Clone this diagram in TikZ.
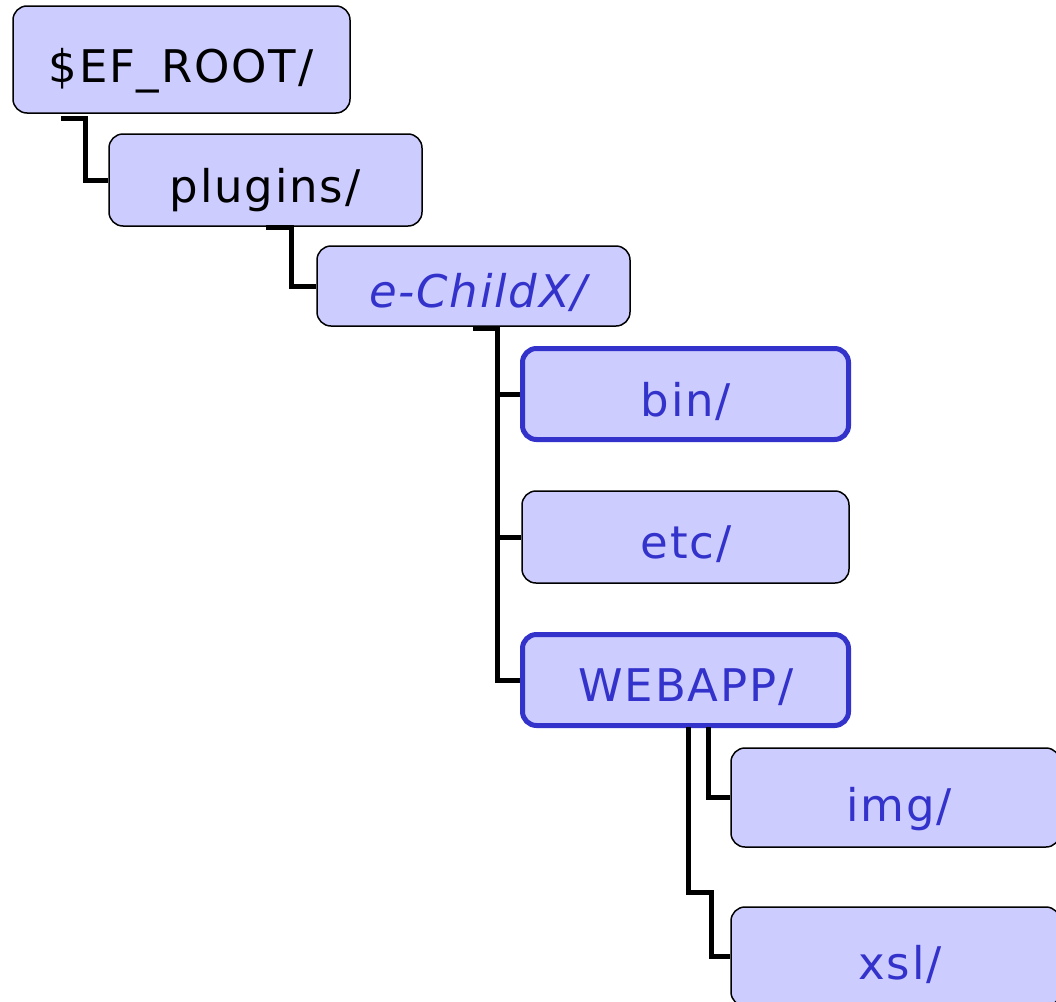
\documentclass[tikz,border=0pt]{standalone}
\usepackage{fontspec}
\setmainfont[LetterSpace=4]{DejaVu Sans}
\definecolor{boxfill}{HTML}{CCCCFF}
\definecolor{dirblue}{HTML}{3333CC}
\tikzset{
  dirbox/.style={draw=black, line width=1.5pt, fill=boxfill, rounded corners=14pt, inner sep=0pt},
  hibox/.style={draw=dirblue, line width=5pt, fill=boxfill, rounded corners=14pt, inner sep=0pt},
  lbl/.style={anchor=base, inner sep=0pt, font=\fontsize{45}{50}\selectfont},
  link/.style={draw=black, line width=5pt, line cap=butt, line join=miter}
}
\begin{document}
\begin{tikzpicture}[x=1pt,y=-1pt]
\useasboundingbox (0,0) rectangle (1056,1001);
\clip (0,0) rectangle (1056,1001);
% boxes
\node[dirbox, minimum width=337pt, minimum height=107pt] (root) at (181.5,59.5) {};
\node[dirbox, minimum width=313pt, minimum height=92pt] (plugins) at (265.5,180) {};
\node[dirbox, minimum width=313pt, minimum height=80pt] (child) at (473.5,286) {};
\node[hibox, minimum width=326pt, minimum height=91pt] (bin) at (685.5,394) {};
\node[dirbox, minimum width=327pt, minimum height=92pt] (etc) at (685.5,537) {};
\node[hibox, minimum width=326pt, minimum height=91pt] (webapp) at (685.5,680) {};
\node[dirbox, minimum width=329pt, minimum height=99pt] (img) at (895.5,797.5) {};
\node[dirbox, minimum width=329pt, minimum height=99pt] (xsl) at (895.5,956.5) {};
% labels
\node[lbl] (rootT) at (181,82) {\$EF\_ROOT/};
\node[lbl] (pluginsT) at (265,202) {plugins/};
\node[lbl, text=dirblue, font=\fontsize{45}{50}\selectfont\itshape] (childT) at (478,307) {e-ChildX/};
\node[lbl, text=dirblue] (binT) at (686,416) {bin/};
\node[lbl, text=dirblue] (etcT) at (686,558) {etc/};
\node[lbl, text=dirblue] (webappT) at (686,701) {WEBAPP/};
\node[lbl, text=dirblue] (imgT) at (899,821) {img/};
\node[lbl, text=dirblue] (xslT) at (900,979) {xsl/};
% connector anchor points
\coordinate (r0) at (61,118);
\coordinate (r1) at (85,118);
\coordinate (p0) at (266,227);
\coordinate (p1) at (291,227);
\coordinate (c0) at (473,328);
\coordinate (c1) at (497.5,328);
\coordinate (w0) at (708,727);
\coordinate (w1) at (688,727);
\coordinate (x1) at (688,892);
\coordinate (x2) at (711,892);
% connectors
\draw[link] (r0) -- (r1) |- (plugins.west);
\draw[link] (p0) -- (p1) |- (child.west);
\draw[link] (c0) -- (c1) |- (bin.west);
\draw[link] (c1) |- (etc.west);
\draw[link] (c1) |- (webapp.west);
\draw[link] (w0) |- (img.west);
\draw[link] (w1) -- (x1) -- (x2) |- (xsl.west);
\end{tikzpicture}
\end{document}
